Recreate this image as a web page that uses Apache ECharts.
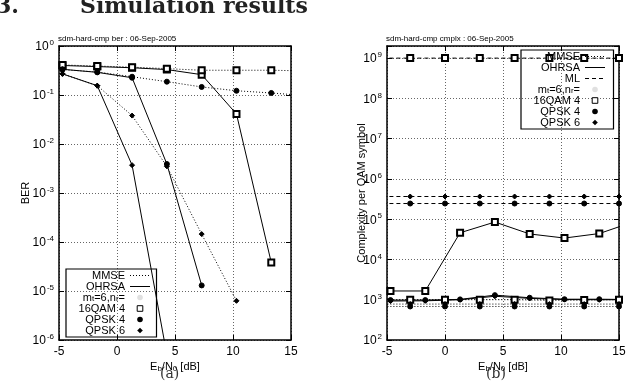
<!DOCTYPE html>
<html>
<head>
<meta charset="utf-8">
<script src="https://cdn.jsdelivr.net/npm/echarts@6/dist/echarts.min.js"></script>
<style>
  html, body { margin: 0; padding: 0; background: #fff; }
  #chart { width: 630px; height: 384px; }
</style>
</head>
<body>
<div id="chart"></div>
<script>
// Eb/N0 [dB] where the points sit
const ebnoOhrsa = [-4.7, -1.7, 1.3, 4.3, 7.3, 10.3, 13.3, 16.3]
const ebnoMl = [-6, -3, 0, 3, 6, 9, 12, 15]
const xTicks = [-5, 0, 5, 10, 15]

// (a) BER
const berQam16Ohrsa = [0.40, 0.38, 0.36, 0.33, 0.26, 0.041, 3.8e-5]
const berQam16Mmse = [0.41, 0.39, 0.37, 0.345, 0.32, 0.32, 0.32, 0.31]
const berQpsk4Ohrsa = [0.335, 0.29, 0.225, 0.0039, 1.3e-5]
const berQpsk4Mmse = [0.33, 0.295, 0.236, 0.187, 0.146, 0.122, 0.11, 0.097]
const berQpsk6Ohrsa = [0.27, 0.155, 0.0037, 5e-7]
const berQpsk6Mmse = [0.27, 0.155, 0.038, 0.0035, 1.45e-4, 6.3e-6]

// (b) complexity per QAM symbol
const cpxQam16Ohrsa = [1650, 1650, 46000, 85000, 43000, 34000, 44000, 87000]
const cpxQpsk4Ohrsa = [980, 980, 1020, 1300, 1120, 1030, 1030, 1010]
const cpxQpsk6Ohrsa = [930, 940, 1000, 1220, 1080, 1010, 1000, 1000]
const cpxQam16Mmse = [1000, 1000, 1000, 1000, 1000, 960, 980, 1000]
const cpxQpsk6Mmse = [780, 780, 780, 780, 780, 780, 780, 780]
const cpxQpsk4Mmse = [680, 680, 680, 680, 680, 680, 680, 680]
const cpxQam16Ml = [1e9, 1e9, 1e9, 1e9, 1e9, 1e9, 1e9, 1e9]
const cpxQpsk6Ml = [3.66e5, 3.66e5, 3.66e5, 3.66e5, 3.66e5, 3.66e5, 3.66e5, 3.66e5]
const cpxQpsk4Ml = [2.45e5, 2.45e5, 2.45e5, 2.45e5, 2.45e5, 2.45e5, 2.45e5, 2.45e5]

const FONT = 'Liberation Sans'
const pts = (xs, ys) => ys.map((v, i) => [xs[i], v])

const dash = { MMSE: [1, 2], OHRSA: 'solid', ML: [4, 3] }
const mark = {
  '16QAM 4': { symbol: 'emptyRect', symbolSize: 6 },
  'QPSK 4': { symbol: 'circle', symbolSize: 5 },
  'QPSK 6': { symbol: 'diamond', symbolSize: 5 }
}

let mkLine = function(grid, algo, modul, xs, ys) {
  return {
    type: 'line',
    xAxisIndex: grid * 2,
    yAxisIndex: grid * 2,
    data: pts(xs, ys),
    symbol: mark[modul].symbol,
    symbolSize: mark[modul].symbolSize,
    showAllSymbol: true,
    clip: true,
    silent: true,
    lineStyle: { color: '#000', width: 1, type: dash[algo] },
    itemStyle: { color: '#000', borderColor: '#000', borderWidth: 1 },
    z: 3
  }
}

// empty series, only there to feed the legends
let dummies = [
  { name: 'MMSE', type: 'line', data: [], symbol: 'none', lineStyle: { color: '#000', width: 1, type: dash.MMSE } },
  { name: 'OHRSA', type: 'line', data: [], symbol: 'none', lineStyle: { color: '#000', width: 1, type: 'solid' } },
  { name: 'ML', type: 'line', data: [], symbol: 'none', lineStyle: { color: '#000', width: 1, type: dash.ML } },
  { name: 'mtnr', type: 'line', data: [], symbol: 'none', lineStyle: { width: 0, opacity: 0 } },
  { name: '16QAM 4', type: 'line', data: [], symbol: 'rect', lineStyle: { width: 0, opacity: 0 } },
  { name: 'QPSK 4', type: 'line', data: [], symbol: 'circle', lineStyle: { width: 0, opacity: 0 } },
  { name: 'QPSK 6', type: 'line', data: [], symbol: 'diamond', lineStyle: { width: 0, opacity: 0 } }
]
const legendIcons = {
  MMSE: { itemStyle: { opacity: 0 }, lineStyle: { width: 1 } },
  OHRSA: { itemStyle: { opacity: 0 }, lineStyle: { width: 1 } },
  ML: { itemStyle: { opacity: 0 }, lineStyle: { width: 1 } },
  mtnr: { itemStyle: { color: '#ccc', borderWidth: 0, opacity: 0.6 }, lineStyle: { opacity: 0 } },
  '16QAM 4': { itemStyle: { color: '#fff', borderColor: '#000', borderWidth: 1 } },
  'QPSK 4': { itemStyle: { color: '#000', borderColor: '#000', borderWidth: 0 } },
  'QPSK 6': { itemStyle: { color: '#000', borderColor: '#000', borderWidth: 0 } }
}
const legendItems = names => names.map(n => Object.assign({ name: n }, legendIcons[n]))

const powLabel = v => {
  let l = Math.log10(v)
  let e = Math.round(l)
  if (Math.abs(l - e) > 1e-6) return ''
  return '{b|10}{s|' + e + '}'
}
const powRich = {
  b: { fontSize: 12, fontFamily: FONT, color: '#000', verticalAlign: 'bottom', lineHeight: 14 },
  s: { fontSize: 8, fontFamily: FONT, color: '#000', verticalAlign: 'top', lineHeight: 8, padding: [0, 0, 0, 1] }
}
const subRich = {
  n: { fontSize: 11, fontFamily: FONT, color: '#000' },
  sub: { fontSize: 8, fontFamily: FONT, color: '#000', verticalAlign: 'bottom', padding: [5, 0, 0, 0] }
}

let xMain = function(grid) {
  return {
    type: 'value', gridIndex: grid,
    min: xTicks[0], max: xTicks[xTicks.length - 1], interval: xTicks[1] - xTicks[0],
    name: '{n|E}{sub|b}{n|/N}{sub|0}{n| [dB]}',
    nameLocation: 'middle', nameGap: 20, nameMoveOverlap: false,
    nameTextStyle: { rich: subRich },
    axisLine: { onZero: false, lineStyle: { color: '#000', width: 1.5 } },
    axisTick: { inside: true, length: 5, lineStyle: { color: '#000' } },
    axisLabel: { margin: 6, fontSize: 12, fontFamily: FONT, color: '#000' },
    splitLine: { lineStyle: { color: '#666', type: [1, 2] } }
  }
}
let xMirror = function(grid) {
  return {
    type: 'value', gridIndex: grid, position: 'top',
    min: xTicks[0], max: xTicks[xTicks.length - 1], interval: xTicks[1] - xTicks[0],
    axisLine: { onZero: false, lineStyle: { color: '#000', width: 1.5 } },
    axisTick: { inside: true, length: 5, lineStyle: { color: '#000' } },
    axisLabel: { show: false },
    splitLine: { show: false }
  }
}
let yMain = function(grid, min, max, name, gap) {
  return {
    type: 'log', logBase: 10, gridIndex: grid, min: min, max: max,
    name: name, nameLocation: 'middle', nameGap: gap, nameMoveOverlap: false,
    nameTextStyle: { fontSize: 11, fontFamily: FONT, color: '#000' },
    axisLine: { show: true, onZero: false, lineStyle: { color: '#000', width: 1.5 } },
    axisTick: { inside: true, length: 5, lineStyle: { color: '#000' } },
    axisLabel: { margin: 5, formatter: powLabel, rich: powRich },
    splitLine: { lineStyle: { color: '#666', type: [1, 2] } }
  }
}
let yMirror = function(grid, min, max) {
  return {
    type: 'log', logBase: 10, gridIndex: grid, min: min, max: max, position: 'right',
    axisLine: { show: true, onZero: false, lineStyle: { color: '#000', width: 1.5 } },
    axisTick: { inside: true, length: 5, lineStyle: { color: '#000' } },
    axisLabel: { show: false },
    splitLine: { show: false }
  }
}

let legendBase = {
  orient: 'vertical', align: 'right', itemGap: 0, itemWidth: 20, itemHeight: 7,
  borderColor: '#000', borderWidth: 1.2, selectedMode: false,
  formatter: n => n === 'mtnr' ? '{n|m}{sub|t}{n|=6,n}{sub|r}{n|=}' : n
}

let chart = echarts.init(document.getElementById('chart'), null, { renderer: 'canvas' })
chart.setOption({
  animation: false,
  backgroundColor: '#fff',
  title: [
    { text: 'sdm-hard-cmp ber : 06-Sep-2005', left: 58, top: 35, padding: 0,
      textStyle: { fontSize: 8, fontWeight: 'normal', fontFamily: FONT, color: '#000' } },
    { text: 'sdm-hard-cmp cmplx : 06-Sep-2005', left: 386, top: 35, padding: 0,
      textStyle: { fontSize: 8, fontWeight: 'normal', fontFamily: FONT, color: '#000' } }
  ],
  grid: [
    { left: 59, right: 339, top: 46, bottom: 44 },
    { left: 387, right: 11, top: 46, bottom: 44 }
  ],
  xAxis: [xMain(0), xMirror(0), xMain(1), xMirror(1)],
  yAxis: [
    yMain(0, 1e-6, 1, 'BER', 28), yMirror(0, 1e-6, 1),
    yMain(1, 100, 2e9, 'Complexity per QAM symbol', 20), yMirror(1, 100, 2e9)
  ],
  legend: [
    Object.assign({}, legendBase, {
      left: 66, top: 269, padding: [1, 6, 1, 3],
      data: legendItems(['MMSE', 'OHRSA', 'mtnr', '16QAM 4', 'QPSK 4', 'QPSK 6']),
      textStyle: { fontSize: 11, lineHeight: 11, fontFamily: FONT, color: '#000', width: 56, rich: subRich }
    }),
    Object.assign({}, legendBase, {
      left: 521, top: 50, padding: [1, 8, 1, 10],
      data: legendItems(['MMSE', 'OHRSA', 'ML', 'mtnr', '16QAM 4', 'QPSK 4', 'QPSK 6']),
      textStyle: { fontSize: 11, lineHeight: 11, fontFamily: FONT, color: '#000', width: 49, rich: subRich }
    })
  ],
  graphic: [
    { type: 'text', left: -4, top: -4, silent: true,
      style: { text: '3.', font: 'bold 22px "DejaVu Serif"', fill: '#222' } },
    { type: 'text', left: 80, top: -4, silent: true,
      style: { text: 'Simulation results', font: 'bold 22px "DejaVu Serif"', fill: '#222' } },
    { type: 'text', left: 160, top: 367, silent: true,
      style: { text: '(a)', font: '14px "DejaVu Serif"', fill: '#333' } },
    { type: 'text', left: 486, top: 367, silent: true,
      style: { text: '(b)', font: '14px "DejaVu Serif"', fill: '#333' } }
  ],
  series: dummies.concat([
    mkLine(0, 'OHRSA', '16QAM 4', ebnoOhrsa, berQam16Ohrsa),
    mkLine(0, 'MMSE', '16QAM 4', ebnoOhrsa, berQam16Mmse),
    mkLine(0, 'OHRSA', 'QPSK 4', ebnoOhrsa, berQpsk4Ohrsa),
    mkLine(0, 'MMSE', 'QPSK 4', ebnoOhrsa, berQpsk4Mmse),
    mkLine(0, 'OHRSA', 'QPSK 6', ebnoOhrsa, berQpsk6Ohrsa),
    mkLine(0, 'MMSE', 'QPSK 6', ebnoOhrsa, berQpsk6Mmse),

    mkLine(1, 'OHRSA', '16QAM 4', ebnoOhrsa, cpxQam16Ohrsa),
    mkLine(1, 'OHRSA', 'QPSK 4', ebnoOhrsa, cpxQpsk4Ohrsa),
    mkLine(1, 'OHRSA', 'QPSK 6', ebnoOhrsa, cpxQpsk6Ohrsa),
    mkLine(1, 'MMSE', '16QAM 4', ebnoMl, cpxQam16Mmse),
    mkLine(1, 'MMSE', 'QPSK 6', ebnoMl, cpxQpsk6Mmse),
    mkLine(1, 'MMSE', 'QPSK 4', ebnoMl, cpxQpsk4Mmse),
    mkLine(1, 'ML', '16QAM 4', ebnoMl, cpxQam16Ml),
    mkLine(1, 'ML', 'QPSK 6', ebnoMl, cpxQpsk6Ml),
    mkLine(1, 'ML', 'QPSK 4', ebnoMl, cpxQpsk4Ml)
  ])
})
</script>
</body>
</html>
